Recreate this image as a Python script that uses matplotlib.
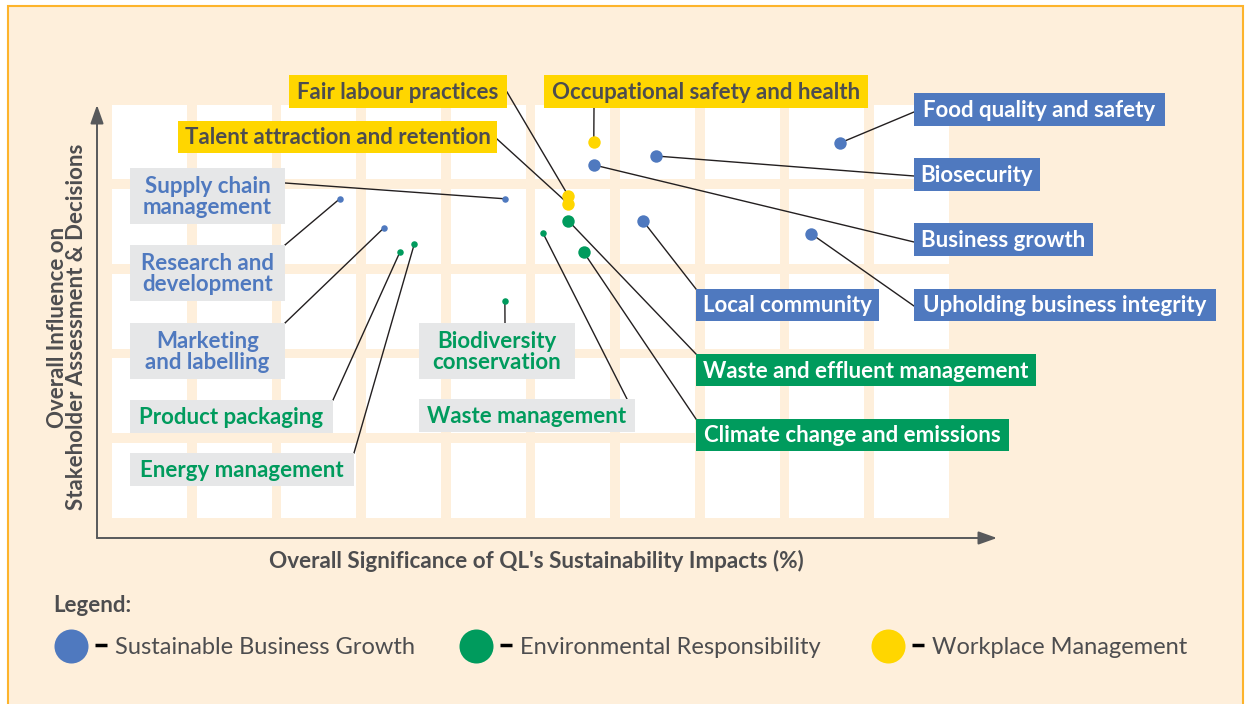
import numpy as np
import matplotlib.pyplot as plt
from matplotlib.patches import Rectangle

plt.rcParams['font.family'] = ['Lato', 'DejaVu Sans']

# material topics, x = significance of impacts (%), y = influence on stakeholders
topics = ['Food quality and safety', 'Biosecurity', 'Business growth', 'Local community',
          'Upholding business integrity', 'Supply chain\nmanagement', 'Research and\ndevelopment',
          'Marketing\nand labelling', 'Product packaging', 'Energy management',
          'Waste management', 'Biodiversity\nconservation', 'Waste and effluent management',
          'Climate change and emissions', 'Occupational safety and health',
          'Fair labour practices', 'Talent attraction and retention']
pillar = ['SBG'] * 8 + ['ER'] * 6 + ['WM'] * 3
significance = [86.0, 64.3, 56.9, 62.7, 82.6, 46.4, 26.9, 32.1, 34.0, 35.7,
                50.9, 46.4, 53.9, 55.7, 56.9, 53.9, 53.9]
influence = [88.6, 85.5, 83.4, 70.2, 67.1, 75.4, 75.4, 68.5, 62.8, 64.7,
             67.3, 51.3, 70.2, 62.8, 88.8, 76.1, 74.2]

pillar_names = {'SBG': 'Sustainable Business Growth',
                'ER': 'Environmental Responsibility',
                'WM': 'Workplace Management'}

# styling / layout
colors = {'SBG': '#4F79BF', 'ER': '#009B5D', 'WM': '#FFD600'}
cream = '#FEEFDB'
dark = '#4D4D4F'
grey_box = '#E6E7E8'
big, small = 80, 22
dot_size = [big] * 5 + [small] * 3 + [small] * 4 + [big] * 2 + [big] * 3

# label boxes in pixels (left, top, right, bottom), 'solid' or 'grey', leader end
boxes = [
    ((914, 93, 1165, 126), 'solid', (914, 112)),
    ((914, 158, 1040, 191), 'solid', (914, 176)),
    ((914, 223, 1093, 256), 'solid', (914, 242)),
    ((696, 289, 879, 321), 'solid', (696, 289)),
    ((914, 289, 1216, 321), 'solid', (914, 306)),
    ((130, 168, 285, 224), 'grey', (285, 183)),
    ((130, 245, 285, 301), 'grey', (285, 245)),
    ((130, 323, 285, 379), 'grey', (285, 323)),
    ((130, 400, 333, 433), 'grey', (333, 400)),
    ((130, 453, 354, 486), 'grey', (354, 453)),
    ((419, 399, 635, 432), 'grey', (627, 399)),
    ((419, 323, 575, 379), 'grey', (505, 323)),
    ((696, 354, 1036, 386), 'solid', (696, 354)),
    ((696, 419, 1009, 451), 'solid', (696, 419)),
    ((544, 75, 868, 108), 'solid', (594, 108)),
    ((289, 75, 507, 108), 'solid', (507, 92)),
    ((178, 121, 497, 153), 'solid', (497, 139)),
]

W, H = 1251, 704
fig = plt.figure(figsize=(W / 100, H / 100), dpi=100, facecolor='white')
fig.patches.append(Rectangle((8 / W, -0.01), 1235 / W, 1 - 6 / H + 0.01,
                             transform=fig.transFigure, fc=cream, ec='#FDB42C',
                             lw=1.5, zorder=-10))

ax = fig.add_axes([97 / W, (H - 538) / H, 900 / W, 433 / H])
ax.set_facecolor('none')
ax.set_xlim(-15 / 8.467, 885 / 8.467)
ax.set_ylim(-20 / 4.2335, 413 / 4.2335)
for s in ax.spines.values():
    s.set_visible(False)
ax.set_xticks([])
ax.set_yticks([])


def px(x, y):
    return ax.transData.inverted().transform((x, H - y))


# white grid cells
for i in range(10):
    for j in range(5):
        ax.add_patch(Rectangle((10 * i, 20 * j), 8.85, 17.7, fc='white', ec='none', zorder=0))

# axis arrows
arrow = dict(arrowstyle='-|>,head_length=0.45,head_width=0.16', color='#58595B',
             lw=1.4, mutation_scale=25, shrinkA=0, shrinkB=0)
ax.annotate('', xy=(0, 1), xytext=(0, 0), xycoords='axes fraction', arrowprops=arrow)
ax.annotate('', xy=(1, 0), xytext=(0, 0), xycoords='axes fraction', arrowprops=arrow)

ax.text(*px(536, 561), "Overall Significance of QL's Sustainability Impacts (%)",
        ha='center', va='center', fontsize=16.2, fontweight='bold', color=dark)
ax.text(*px(67, 327), 'Overall Influence on\nStakeholder Assessment & Decisions',
        ha='center', va='center', rotation=90, fontsize=16, fontweight='bold',
        color=dark, linespacing=0.93)

# leader lines, dots and labels
for k, name in enumerate(topics):
    (l, t, r, b), kind, end = boxes[k]
    col = colors[pillar[k]]
    ex, ey = px(*end)
    ax.plot([significance[k], ex], [influence[k], ey], color='#231F20', lw=1.0,
            zorder=2, clip_on=False)
    ax.scatter(significance[k], influence[k], s=dot_size[k], color=col,
               zorder=3, linewidths=0, clip_on=False)

    x0, y0 = px(l, b)
    x1, y1 = px(r, t)
    fc = col if kind == 'solid' else grey_box
    ax.add_patch(Rectangle((x0, y0), x1 - x0, y1 - y0, fc=fc, ec='none',
                           zorder=4, clip_on=False))
    if kind == 'grey':
        tc = col
    else:
        tc = dark if pillar[k] == 'WM' else 'white'
    ax.text(*px((l + r) / 2, (t + b) / 2 + 1), name, ha='center', va='center',
            fontsize=16, fontweight='bold', color=tc, linespacing=1.05, zorder=5)

# legend
ax.text(*px(53, 605), 'Legend:', ha='left', va='center', fontsize=16,
        fontweight='bold', color=dark)
legend_x = [71, 476, 888]
for key, lx in zip(['SBG', 'ER', 'WM'], legend_x):
    ax.scatter(*px(lx, 646), s=600, color=colors[key], linewidths=0, clip_on=False)
    dx0, dy = px(lx + 24, 645)
    dx1, _ = px(lx + 36, 645)
    ax.plot([dx0, dx1], [dy, dy], color='black', lw=2.5, solid_capstyle='butt',
            clip_on=False)
    ax.text(*px(lx + 44, 647), pillar_names[key], ha='left', va='center',
            fontsize=17, fontweight='normal', color=dark)

fig.savefig('out.png', dpi=100, facecolor='white')
